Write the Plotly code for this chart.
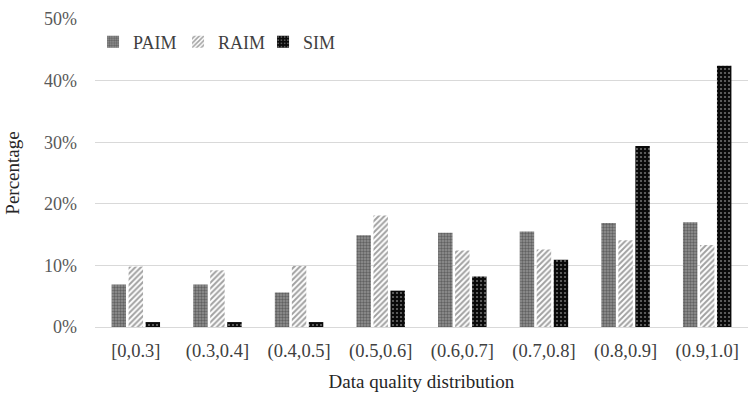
import plotly.graph_objects as go

categories = ["[0,0.3]", "(0.3,0.4]", "(0.4,0.5]", "(0.5,0.6]", "(0.6,0.7]", "(0.7,0.8]", "(0.8,0.9]", "(0.9,1.0]"]
paim = [0.069, 0.069, 0.056, 0.149, 0.153, 0.155, 0.169, 0.170]
raim = [0.098, 0.092, 0.099, 0.181, 0.124, 0.126, 0.141, 0.133]
sim = [0.008, 0.008, 0.008, 0.059, 0.082, 0.109, 0.294, 0.424]
series_names = ["PAIM", "RAIM", "SIM"]

FONT = "Liberation Serif, Times New Roman, serif"

fig = go.Figure()
fig.add_trace(go.Bar(
    x=categories, y=paim, name=series_names[0],
    marker=dict(color="#808080", line=dict(width=0),
                pattern=dict(shape=".", fgcolor="#2e2e2e", bgcolor="#949494", size=3, solidity=0.5)),
))
fig.add_trace(go.Bar(
    x=categories, y=raim, name=series_names[1],
    marker=dict(color="white", line=dict(width=0),
                pattern=dict(shape="/", fgcolor="#444444", bgcolor="white", size=4, solidity=0.5)),
))
fig.add_trace(go.Bar(
    x=categories, y=sim, name=series_names[2],
    marker=dict(color="black", line=dict(width=0),
                pattern=dict(shape=".", fgcolor="#cfcfcf", bgcolor="#0a0a0a", size=4, solidity=0.22)),
))

fig.update_layout(
    width=753, height=406,
    margin=dict(l=95, r=5, t=19, b=79),
    paper_bgcolor="white", plot_bgcolor="white",
    barmode="group", bargap=0.375, bargroupgap=0.15,
    font=dict(family=FONT, size=18, color="#595959"),
    showlegend=True,
    legend=dict(orientation="h", x=-0.003, y=0.925, xanchor="left", yanchor="middle",
                font=dict(family=FONT, size=18, color="#404040"),
                bgcolor="rgba(0,0,0,0)", itemwidth=30, tracegroupgap=0,
                entrywidth=40, entrywidthmode="pixels"),
    xaxis=dict(
        showgrid=False, showline=False, ticks="", ticklabelstandoff=10, automargin=False,
        tickfont=dict(family=FONT, size=18.5, color="#404040"),
        title=dict(text="Data quality distribution", font=dict(family=FONT, size=19, color="#262626"), standoff=14),
    ),
    yaxis=dict(
        range=[0, 0.5], dtick=0.1, tickformat=".0%", automargin=True,
        showgrid=True, gridcolor="#d9d9d9", gridwidth=1,
        zeroline=True, zerolinecolor="#d9d9d9", zerolinewidth=1,
        showline=False, ticks="", ticklabelstandoff=17,
        tickfont=dict(family=FONT, size=18, color="#595959"),
        title=dict(text="Percentage", font=dict(family=FONT, size=19, color="#262626"), standoff=19),
    ),
)

fig.write_html("out.html", config={"displayModeBar": False},
               post_script="document.body.style.margin='0';")
